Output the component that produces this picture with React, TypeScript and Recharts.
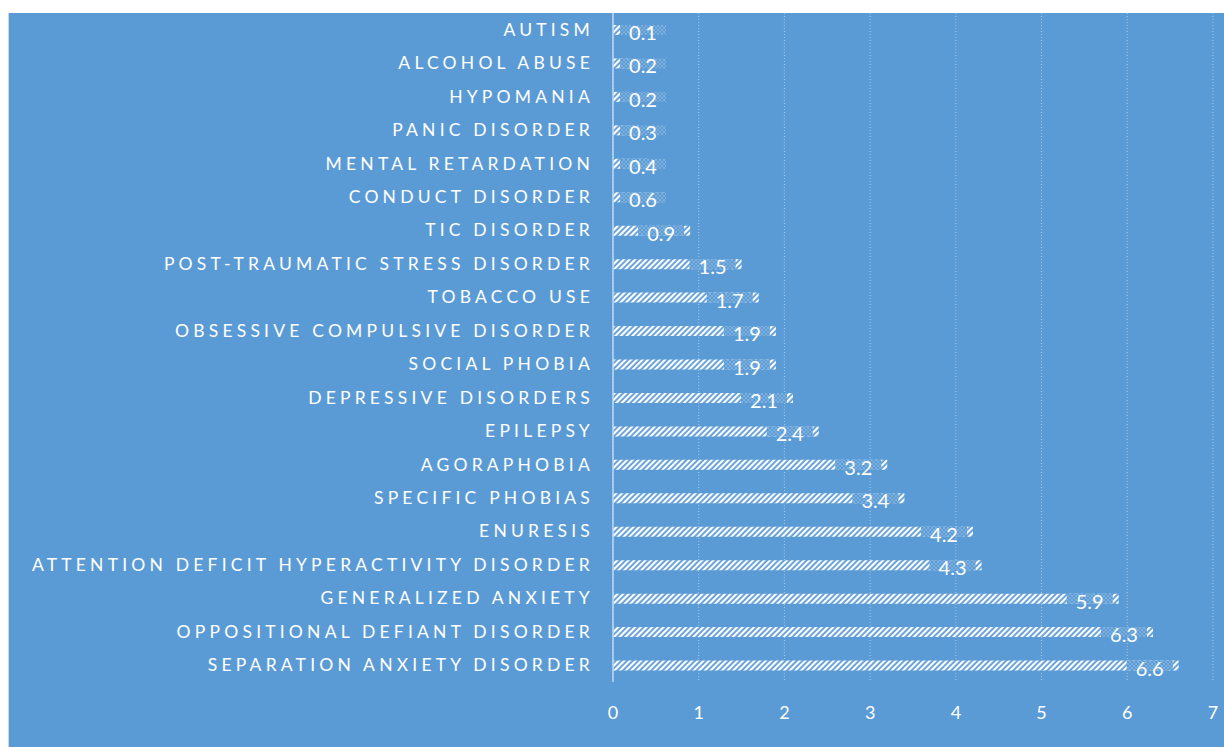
import React from 'react';
import { BarChart, Bar, XAxis, YAxis, CartesianGrid } from 'recharts';

const categories = [
  'AUTISM',
  'ALCOHOL ABUSE',
  'HYPOMANIA',
  'PANIC DISORDER',
  'MENTAL RETARDATION',
  'CONDUCT DISORDER',
  'TIC DISORDER',
  'POST-TRAUMATIC STRESS DISORDER',
  'TOBACCO USE',
  'OBSESSIVE COMPULSIVE DISORDER',
  'SOCIAL PHOBIA',
  'DEPRESSIVE DISORDERS',
  'EPILEPSY',
  'AGORAPHOBIA',
  'SPECIFIC PHOBIAS',
  'ENURESIS',
  'ATTENTION DEFICIT HYPERACTIVITY DISORDER',
  'GENERALIZED ANXIETY',
  'OPPOSITIONAL DEFIANT DISORDER',
  'SEPARATION ANXIETY DISORDER',
];

const prevalence = [0.1, 0.2, 0.2, 0.3, 0.4, 0.6, 0.9, 1.5, 1.7, 1.9, 1.9, 2.1, 2.4, 3.2, 3.4, 4.2, 4.3, 5.9, 6.3, 6.6];

const xTicks = [0, 1, 2, 3, 4, 5, 6, 7];

const data = categories.map((name, i) => ({ name, value: prevalence[i] }));

const BG = '#5B9BD5';
const FONT = 'Lato, "Open Sans", sans-serif';

const CategoryTick = (props: any) => {
  const { x, y, payload } = props;
  return (
    <text
      x={x - 11}
      y={y + 6}
      textAnchor="end"
      fill="#ffffff"
      fontSize={17.5}
      fontFamily={FONT}
      letterSpacing={4.2}
    >
      {payload.value}
    </text>
  );
};

const ValueLabel = (props: any) => {
  const { x, y, width, height, value } = props;
  const boxW = 46;
  const end = x + width;
  const boxRight = Math.max(end - 6, x + 7 + boxW);
  const boxLeft = boxRight - boxW;
  const cy = y + height / 2;
  return (
    <g>
      <rect x={boxLeft} y={y} width={boxW} height={height} fill={BG} />
      <rect x={boxLeft} y={y} width={boxW} height={height} fill="url(#checker)" />
      <text
        x={boxLeft + boxW / 2}
        y={cy + 10}
        textAnchor="middle"
        fill="#ffffff"
        fontSize={20}
        fontFamily={FONT}
      >
        {value}
      </text>
    </g>
  );
};

export default function App() {
  return (
    <div
      style={{
        position: 'absolute',
        left: 8,
        top: 13,
        width: 1216,
        height: 734,
        background: BG,
        borderLeft: '1px solid #c9d6e4',
        boxSizing: 'border-box',
      }}
    >
      <svg width={0} height={0} style={{ position: 'absolute' }}>
        <defs>
          <pattern id="stripes" width={4} height={4} patternUnits="userSpaceOnUse" patternTransform="rotate(45)">
            <rect x={0} y={0} width={4} height={4} fill={BG} />
            <rect x={0} y={0} width={2.2} height={4} fill="#ffffff" />
          </pattern>
          <pattern id="checker" width={4} height={4} patternUnits="userSpaceOnUse">
            <rect x={0} y={0} width={2} height={2} fill="#ffffff" fillOpacity={0.22} />
            <rect x={2} y={2} width={2} height={2} fill="#ffffff" fillOpacity={0.22} />
          </pattern>
        </defs>
      </svg>
      <BarChart
        width={1215}
        height={734}
        data={data}
        layout="vertical"
        margin={{ top: 0, right: 11, left: 0, bottom: 0 }}
        barCategoryGap={0}
      >
        <CartesianGrid
          horizontal={false}
          stroke="#d6e6f5"
          strokeOpacity={0.6}
          strokeDasharray="1 2"
        />
        <XAxis
          type="number"
          domain={[0, 7]}
          ticks={xTicks}
          axisLine={false}
          tickLine={false}
          tickMargin={18}
          height={65}
          tick={{ fill: '#ffffff', fontSize: 18, fontFamily: FONT }}
        />
        <YAxis
          type="category"
          dataKey="name"
          width={604}
          axisLine={{ stroke: '#bfd8ef', strokeWidth: 1.5 }}
          tickLine={false}
          interval={0}
          tick={<CategoryTick />}
        />
        <Bar
          dataKey="value"
          barSize={10}
          fill="url(#stripes)"
          isAnimationActive={false}
          label={<ValueLabel />}
        />
      </BarChart>
    </div>
  );
}
